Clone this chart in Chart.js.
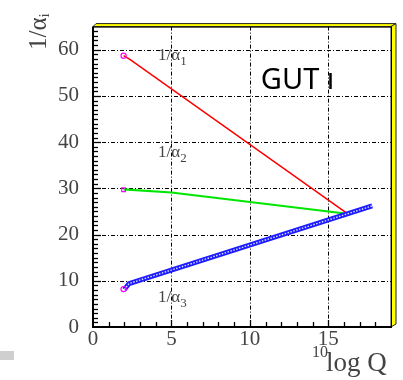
<!DOCTYPE html>
<html>
<head>
<meta charset="utf-8">
<script src="https://cdn.jsdelivr.net/npm/chart.js@4/dist/chart.umd.min.js"></script>
<style>
body { margin: 0; background: #fff; }
#wrap { position: relative; width: 403px; height: 380px; }
</style>
</head>
<body>
<div id="wrap"><canvas id="chart"></canvas></div>
<script>
// running couplings
const logQ1 = [1.95, 2.35, 16.2]
const invAlpha1 = [58.7, 57.9, 24.6]
const logQ2 = [1.95, 5, 16.2]
const invAlpha2 = [29.8, 29.1, 24.5]
const logQ3 = [2.0, 2.3, 17.8]
const invAlpha3 = [8.1, 9.4, 26.2]
const startQ = [1.95, 1.95, 1.95]
const startInv = [58.7, 29.7, 8.2]

const xTicks = [0, 5, 10, 15]
const yTicks = [0, 10, 20, 30, 40, 50, 60]

// curve labels: subscript, x, y (data units)
const labelSubs = ['1', '2', '3']
const labelQ = [4.15, 4.15, 4.15]
const labelInv = [57.8, 36.8, 5.4]

const serif = '"Liberation Serif", "DejaVu Serif", serif'
const pts = (xs, ys) => xs.map((x, i) => ({ x: x, y: ys[i] }))

function line(ctx, x1, y1, x2, y2){
    ctx.beginPath()
    ctx.moveTo(x1, y1)
    ctx.lineTo(x2, y2)
    ctx.stroke()
}

const framePlugin = {
    id: 'frame',
    beforeDatasetsDraw(chart){
        const { ctx, chartArea: a, scales: { x, y } } = chart
        ctx.save()
        ctx.strokeStyle = '#000'
        ctx.lineWidth = 1
        ctx.setLineDash([4, 2, 1, 2])
        xTicks.forEach(v => {
            if(v === 0) return
            const px = Math.round(x.getPixelForValue(v)) + 0.5
            line(ctx, px, a.top, px, a.bottom)
        })
        yTicks.forEach(v => {
            if(v === 0) return
            const py = Math.round(y.getPixelForValue(v)) + 0.5
            line(ctx, a.left, py, a.right, py)
        })
        ctx.setLineDash([])
        ctx.lineWidth = 1.3
        for(let v = 1; v < x.max; v++){
            const px = Math.round(x.getPixelForValue(v)) + 0.5
            line(ctx, px, a.bottom, px, a.bottom - (v % 5 === 0 ? 7 : 5))
        }
        for(let v = 1; v < y.max; v++){
            const py = Math.round(y.getPixelForValue(v)) + 0.5
            line(ctx, a.left, py, a.left + (v % 10 === 0 ? 8 : 5), py)
        }
        ctx.restore()
    },
    afterDraw(chart){
        const { ctx, chartArea: a, scales: { x, y } } = chart
        ctx.save()

        // yellow bevel, top and right
        ctx.fillStyle = '#ffff00'
        ctx.strokeStyle = '#222'
        ctx.lineWidth = 1
        ctx.beginPath()
        ctx.moveTo(a.left, a.top)
        ctx.lineTo(a.left + 3, a.top - 3)
        ctx.lineTo(a.right + 5, a.top - 3)
        ctx.lineTo(a.right, a.top)
        ctx.closePath()
        ctx.fill()
        ctx.stroke()
        ctx.beginPath()
        ctx.moveTo(a.right, a.top)
        ctx.lineTo(a.right + 5, a.top - 3)
        ctx.lineTo(a.right + 5, a.bottom - 3)
        ctx.lineTo(a.right, a.bottom)
        ctx.closePath()
        ctx.fill()
        ctx.stroke()

        // axes
        ctx.strokeStyle = '#000'
        ctx.lineWidth = 1
        ctx.strokeRect(a.left + 0.5, a.top + 0.5, a.right - a.left, a.bottom - a.top)
        ctx.lineWidth = 2
        line(ctx, a.left, a.top, a.left, a.bottom + 1)
        line(ctx, a.left - 1, a.bottom, a.right, a.bottom)

        // curve labels
        ctx.fillStyle = '#444'
        ctx.textBaseline = 'alphabetic'
        ctx.textAlign = 'left'
        labelSubs.forEach((s, i) => {
            const px = x.getPixelForValue(labelQ[i])
            const py = y.getPixelForValue(labelInv[i])
            ctx.font = '17px ' + serif
            ctx.fillText('1/α', px, py)
            const w = ctx.measureText('1/α').width
            ctx.font = '13px ' + serif
            ctx.fillText(s, px + w, py + 5)
        })

        // GUT
        ctx.fillStyle = '#000'
        ctx.font = '29px "Noto Sans", sans-serif'
        ctx.fillText('GUT ı', x.getPixelForValue(10.7), y.getPixelForValue(51.6))

        // axis titles
        ctx.fillStyle = '#444'
        ctx.save()
        ctx.translate(46, 50)
        ctx.rotate(-Math.PI / 2)
        ctx.font = '25px ' + serif
        ctx.fillText('1/α', 0, 0)
        const tw = ctx.measureText('1/α').width
        ctx.font = '15px ' + serif
        ctx.fillText('i', tw, 3)
        ctx.restore()

        ctx.font = '16px ' + serif
        ctx.fillText('10', 312, 357)
        ctx.font = '27px ' + serif
        ctx.fillText('log Q', 326, 371)

        ctx.fillStyle = '#cfcfcf'
        ctx.fillRect(0, 351, 14, 9)
        ctx.restore()
    }
}

const tickFont = { family: serif, size: 21 }

new Chart(document.querySelector('#chart'), {
    type: 'scatter',
    data: {
        datasets: [
            {
                data: pts(startQ, startInv),
                showLine: false,
                pointStyle: ['circle', 'rect', 'circle'],
                pointRadius: 2.6,
                pointBorderWidth: 1.2,
                borderColor: '#ff00ff',
                backgroundColor: 'rgba(255,255,255,0)'
            },
            {
                data: pts(logQ3, invAlpha3),
                showLine: true,
                borderColor: 'rgba(255,255,255,0.85)',
                borderWidth: 1.4,
                borderDash: [1.5, 1.5],
                pointRadius: 0
            },
            {
                data: pts(logQ3, invAlpha3),
                showLine: true,
                borderColor: '#1c1cff',
                borderWidth: 5,
                pointRadius: 0
            },
            {
                data: pts(logQ1, invAlpha1),
                showLine: true,
                borderColor: '#ff0000',
                borderWidth: 1.5,
                pointRadius: 0
            },
            {
                data: pts(logQ2, invAlpha2),
                showLine: true,
                borderColor: '#00e600',
                borderWidth: 2.2,
                pointRadius: 0
            }
        ]
    },
    options: {
        responsive: true,
        maintainAspectRatio: false,
        animation: false,
        devicePixelRatio: 1,
        layout: { padding: { top: 11, right: 12, left: 0, bottom: 0 } },
        plugins: {
            legend: { display: false },
            tooltip: { enabled: false }
        },
        scales: {
            x: {
                type: 'linear',
                min: 0,
                max: 19,
                afterBuildTicks: s => { s.ticks = xTicks.map(v => ({ value: v })) },
                afterFit: s => { s.height = 53 },
                ticks: { font: tickFont, color: '#444', padding: 0, autoSkip: false, maxRotation: 0 },
                grid: { display: false, drawTicks: false },
                border: { display: false }
            },
            y: {
                type: 'linear',
                min: 0,
                max: 65,
                afterBuildTicks: s => { s.ticks = yTicks.map(v => ({ value: v })) },
                afterFit: s => { s.width = 93 },
                ticks: { font: tickFont, color: '#444', padding: 14, autoSkip: false },
                grid: { display: false, drawTicks: false },
                border: { display: false }
            }
        }
    },
    plugins: [framePlugin]
})
</script>
</body>
</html>
